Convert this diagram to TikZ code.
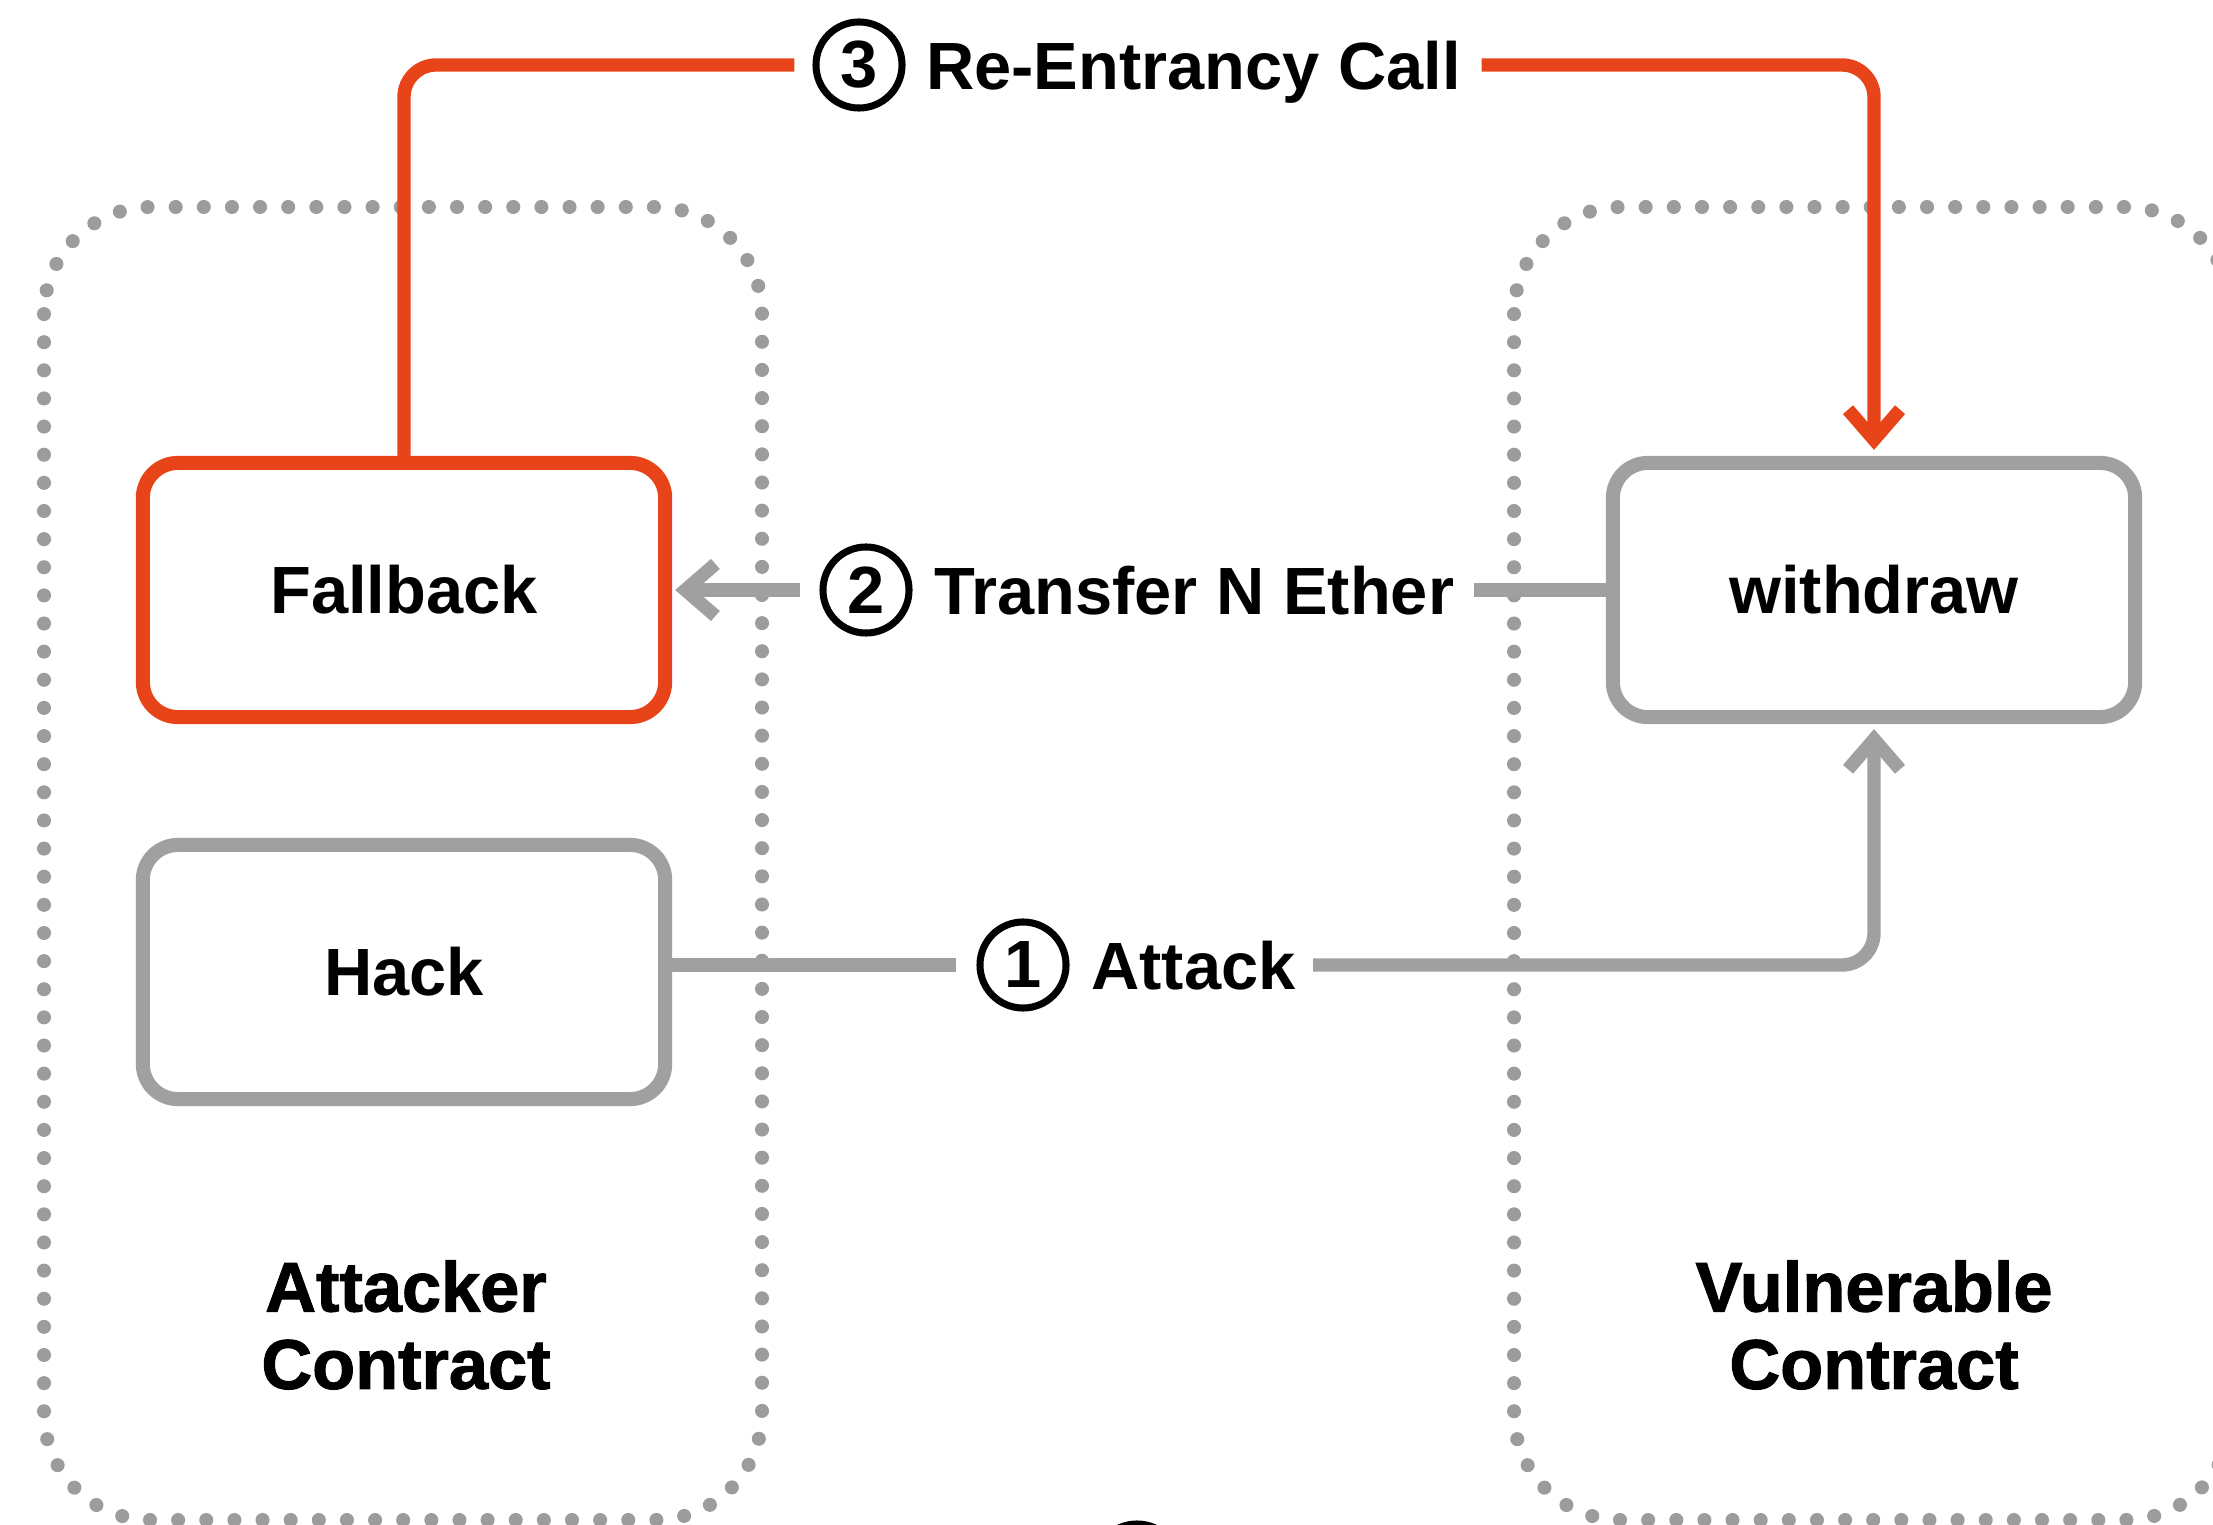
\documentclass[tikz,border=0pt]{standalone}
\usepackage{fontspec}
\setmainfont{Liberation Sans}
\newfontfamily\heavyfont{Liberation Sans}[FakeBold=1.5]
\usetikzlibrary{arrows.meta,positioning}
\definecolor{reentry}{HTML}{E8441A}
\definecolor{edgegray}{HTML}{A0A0A0}
\definecolor{dotgray}{HTML}{9C9C9C}

\begin{document}
\begin{tikzpicture}[x=0.01cm, y=-0.01cm, >={Straight Barb[length=0.3cm, width=0.52cm]},
  font=\fontsize{19}{23}\selectfont\bfseries,
  fn/.style={draw=edgegray, line width=4pt, rounded corners=0.35cm, minimum width=5.22cm, minimum height=2.54cm, align=center},
  hot/.style={fn, draw=reentry},
  grp/.style={dotgray, line width=4pt, dash pattern=on 0pt off 8pt, line cap=round, rounded corners=1.07cm},
  grplab/.style={font=\heavyfont\fontsize{20}{22}\selectfont\bfseries, align=center},
  edge/.style={edgegray, line width=3.8pt},
  redge/.style={edge, draw=reentry},
  num/.style={circle, draw, line width=2pt, minimum size=0.86cm, inner sep=0pt},
  lab/.style={inner sep=0pt, text height=0.48cm, text depth=0pt}]
  \useasboundingbox (0,0) rectangle (2213,1525);
  % the two contracts
  \draw[grp] (44,207) rectangle (762,1520);
  \draw[grp] (1514,207) rectangle (2232,1520);
  \node[grplab] (atk) at (406,1325) {Attacker\\Contract};
  \node[grplab] (vul) at (1874,1325) {Vulnerable\\Contract};
  % functions
  \node[hot] (fallback) at (404,590) {Fallback};
  \node[fn] (hack) at (404,972) {Hack};
  \node[fn] (withdraw) at (1874,590) {withdraw};
  % step labels
  \node[num] (n1) at (1023,965) {1};
  \node[lab, right=0.21cm of n1] (attack) {Attack};
  \node[num] (n2) at (866,590) {2};
  \node[lab, right=0.21cm of n2] (transfer) {Transfer N Ether};
  \node[num] (n3) at (859,65) {3};
  \node[lab, right=0.2cm of n3] (reent) {Re-Entrancy Call};
  \node[num] (n4) at (1137,1567) {};
  % step 1
  \draw[edge, shorten >=0.2cm] (hack.east |- n1) -- (n1.west);
  \draw[edge, ->, rounded corners=0.32cm, shorten <=0.17cm, shorten >=0.05cm] (attack.east) -| (withdraw.south);
  % step 2
  \draw[edge, shorten >=0.19cm] (withdraw.west) -- (transfer.east);
  \draw[edge, ->, shorten <=0.19cm, shorten >=0.03cm] (n2.west) -- (fallback.east);
  % step 3
  \draw[redge, rounded corners=0.32cm, shorten >=0.18cm] (fallback.north) |- (n3.west);
  \draw[redge, ->, rounded corners=0.32cm, shorten <=0.2cm, shorten >=0.06cm] (reent.east) -| (withdraw.north);
\end{tikzpicture}
\end{document}
